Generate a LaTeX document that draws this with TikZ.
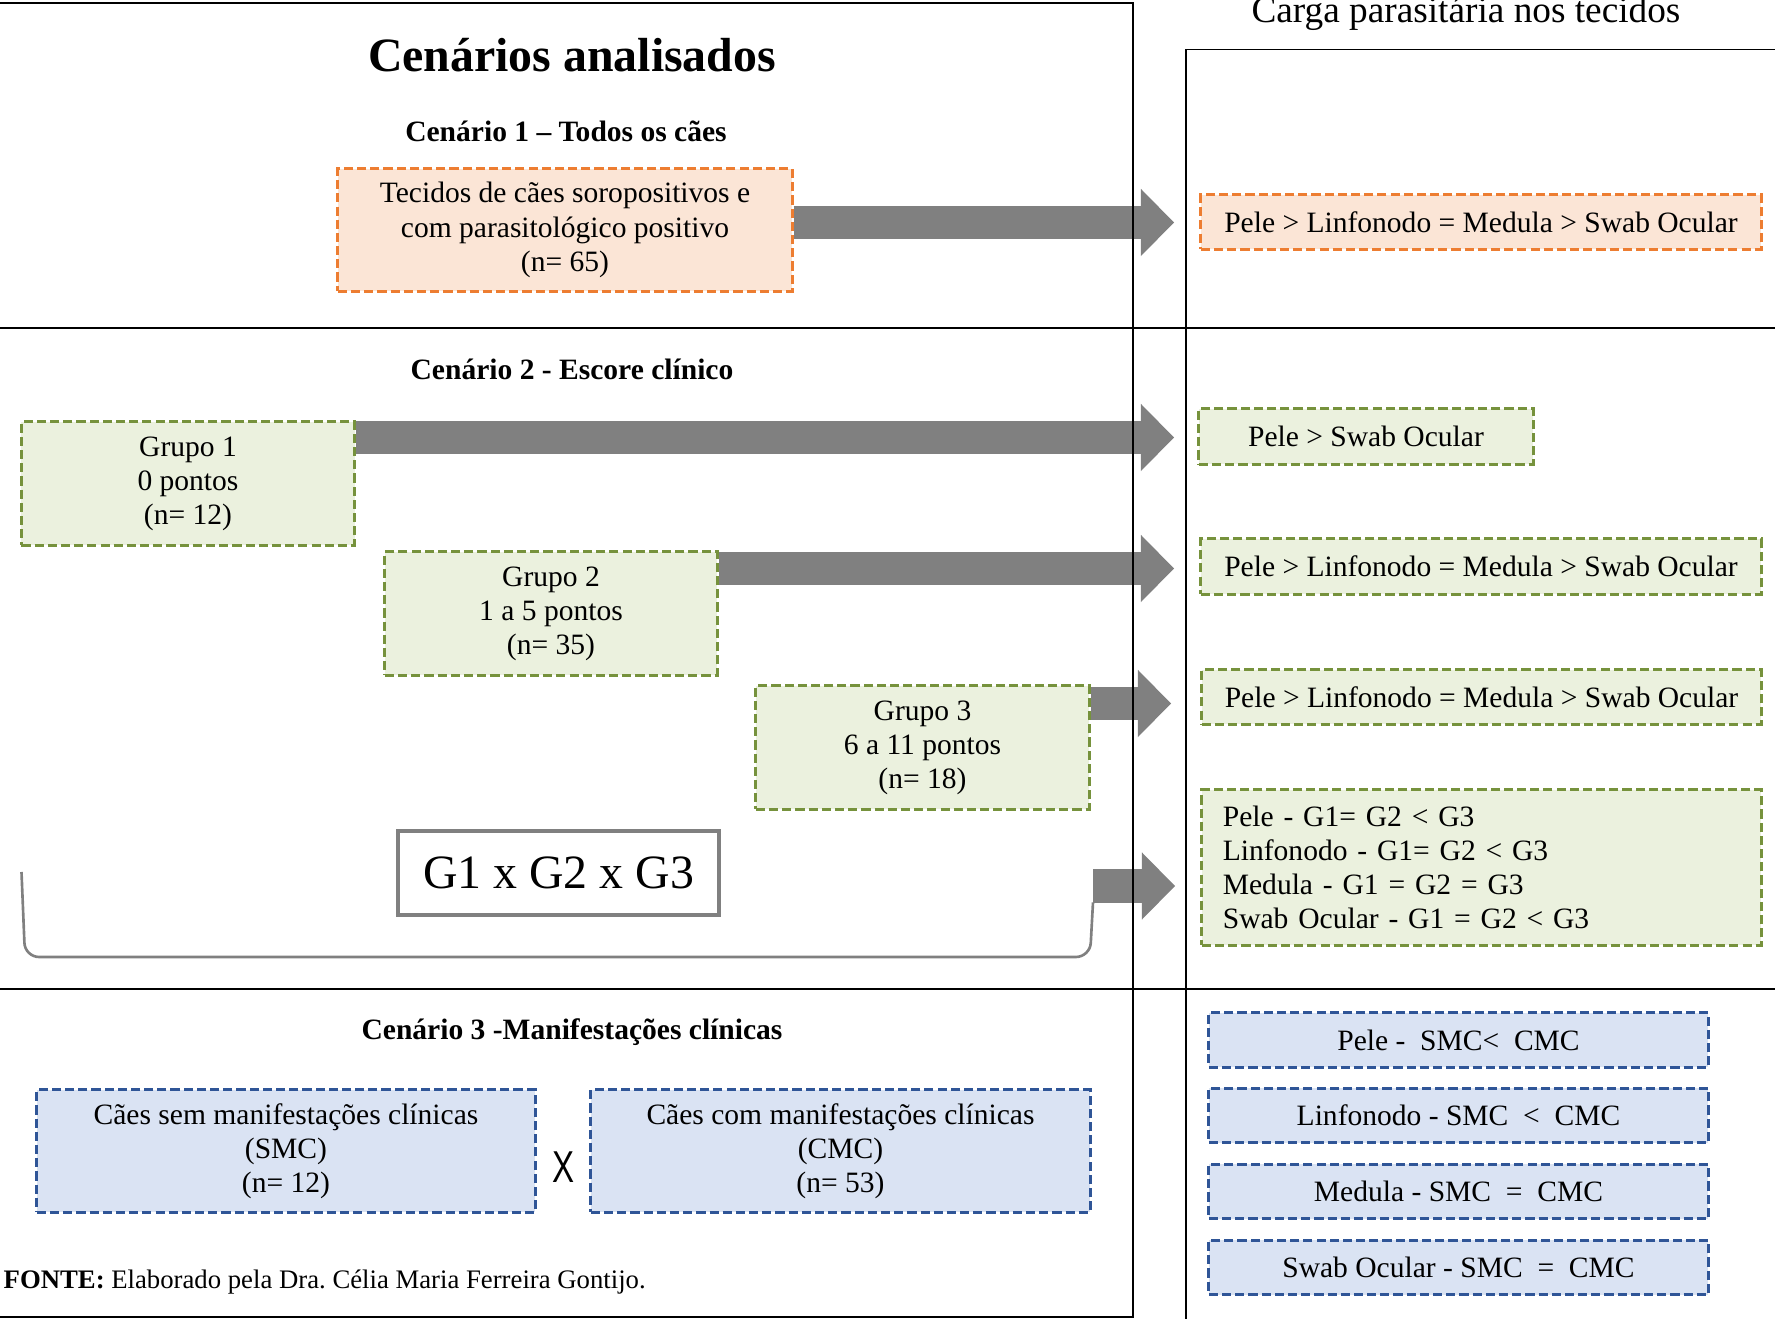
\documentclass[tikz,border=0pt]{standalone}
\usepackage{fontspec}
\setmainfont{Liberation Serif}
\newfontfamily\semserifa[FakeStretch=0.74]{Liberation Sans}
\usetikzlibrary{arrows.meta}

\definecolor{laranja}{RGB}{237,125,49}
\definecolor{laranjaclaro}{RGB}{251,229,214}
\definecolor{verde}{RGB}{118,146,60}
\definecolor{verdeclaro}{RGB}{235,241,222}
\definecolor{azul}{RGB}{47,85,151}
\definecolor{azulclaro}{RGB}{218,227,243}

\newcommand{\corpo}{\fontsize{8.4}{9.7}\selectfont}

\begin{document}
\begin{tikzpicture}[x=0.01cm, y=-0.01cm,
  caixa/.style={draw, line width=0.85pt, dash pattern=on 2.6pt off 1.15pt,
    inner sep=0pt, align=center, font=\corpo},
  laranjabox/.style={caixa, draw=laranja, fill=laranjaclaro},
  verdebox/.style={caixa, draw=verde, fill=verdeclaro},
  azulbox/.style={caixa, draw=azul, fill=azulclaro},
  titulo/.style={anchor=base, font=\bfseries\corpo},
  seta/.style={gray, line width=0.33cm,
    -{Triangle[length=0.33cm, width=0.67cm, line width=0pt]}},
  moldura/.style={black, line width=0.55pt}]
  \useasboundingbox (0,0) rectangle (1775,1319);

  % titulos
  \node[anchor=base, font=\bfseries\fontsize{13.6}{16}\selectfont] (titulo) at (572,72) {Cenários analisados};
  \node[anchor=base, font=\fontsize{10.6}{12}\selectfont] (carga) at (1466,23) {Carga parasitária nos tecidos};

  % Cenario 1
  \node[titulo] (cen1) at (566,142) {Cenário 1 -- Todos os cães};
  \node[laranjabox, minimum width=4.54cm, minimum height=1.22cm] (todos) at (565,230)
    {Tecidos de cães soropositivos e\\com parasitológico positivo\\(n= 65)};
  \node[laranjabox, minimum width=5.60cm, minimum height=0.54cm] (r0) at (1481,222)
    {Pele > Linfonodo = Medula > Swab Ocular};

  % Cenario 2
  \node[titulo] (cen2) at (572,380) {Cenário 2 - Escore clínico};
  \node[verdebox, minimum width=3.33cm, minimum height=1.23cm] (g1) at (188,483.5)
    {Grupo 1\\0 pontos\\(n= 12)};
  \node[verdebox, minimum width=3.32cm, minimum height=1.23cm] (g2) at (551,613.5)
    {Grupo 2\\1 a 5 pontos\\(n= 35)};
  \node[verdebox, minimum width=3.33cm, minimum height=1.23cm] (g3) at (922.5,747.5)
    {Grupo 3\\6 a 11 pontos\\(n= 18)};
  \node[draw=gray, line width=1.1pt, minimum width=3.21cm, minimum height=0.84cm,
    font=\fontsize{13.6}{16}\selectfont] (gxg) at (558.5,873) {G1 x G2 x G3};

  \node[verdebox, minimum width=3.34cm, minimum height=0.55cm] (r1) at (1366,436.5)
    {Pele > Swab Ocular};
  \node[verdebox, minimum width=5.60cm, minimum height=0.55cm] (r2) at (1481,566.5)
    {Pele > Linfonodo = Medula > Swab Ocular};
  \node[verdebox, minimum width=5.59cm, minimum height=0.54cm] (r3) at (1481.5,697)
    {Pele > Linfonodo = Medula > Swab Ocular};
  \node[verdebox, minimum width=5.59cm, minimum height=1.55cm, text width=5.17cm,
    align=left] (r4) at (1481.5,867.5)
    {Pele - G1= G2 < G3\\Linfonodo - G1= G2 < G3\\Medula - G1 = G2 = G3\\Swab Ocular - G1 = G2 < G3};

  % Cenario 3
  \node[titulo] (cen3) at (572,1040) {Cenário 3 -Manifestações clínicas};
  \node[azulbox, minimum width=4.98cm, minimum height=1.22cm] (smc) at (286,1151)
    {Cães sem manifestações clínicas\\(SMC)\\(n= 12)};
  \node[azulbox, minimum width=4.99cm, minimum height=1.22cm] (cmc) at (840.5,1151)
    {Cães com manifestações clínicas\\(CMC)\\(n= 53)};
  \node[font=\semserifa\fontsize{12.7}{14}\selectfont] (vs) at (564,1167) {X};

  \foreach \ny/\txt [count=\i] in {1040/{Pele -\ \ SMC<\ \ CMC},
      1115.5/{Linfonodo - SMC\ \ <\ \ CMC},
      1191.5/{Medula - SMC\ \ =\ \ CMC},
      1267.5/{Swab Ocular - SMC\ \ =\ \ CMC}} {
    \node[azulbox, minimum width=4.99cm, minimum height=0.545cm] (b\i) at (1458.5,\ny) {\txt};
  }

  \node[anchor=base west, inner sep=0pt, font=\fontsize{7.6}{9}\selectfont] (fonte) at (3,1288)
    {\textbf{FONTE:} Elaborado pela Dra.\ Célia Maria Ferreira Gontijo.};

  % setas
  \coordinate (t0) at (1174,222.5);
  \coordinate (t1) at (1174,437.5);
  \coordinate (t2) at (1174,568.5);
  \coordinate (t3) at (1171,703.5);
  \coordinate (t4) at (1175,886);
  \coordinate (brk) at (1093,886);
  \draw[seta] (todos.east |- t0) -- (t0);
  \draw[seta] (g1.east |- t1) -- (t1);
  \draw[seta] (g2.east |- t2) -- (t2);
  \draw[seta] (g3.east |- t3) -- (t3);
  \draw[seta] (brk) -- (t4);
  \draw[gray, line width=0.75pt, rounded corners=4pt]
    (21.5,872) -- (25,957) -- (1090,957) -- ([yshift=-0.165cm]brk);

  % molduras
  \draw[moldura] (0,3.4) -- (1133,3.4) -- (1133,1316.7) -- (0,1316.7);
  \draw[moldura] (1186,1319) -- (1186,49.5) -- (1775,49.5);
  \draw[moldura] (0,327.7) -- (1775,327.7);
  \draw[moldura] (0,989.3) -- (1775,989.3);
\end{tikzpicture}
\end{document}
